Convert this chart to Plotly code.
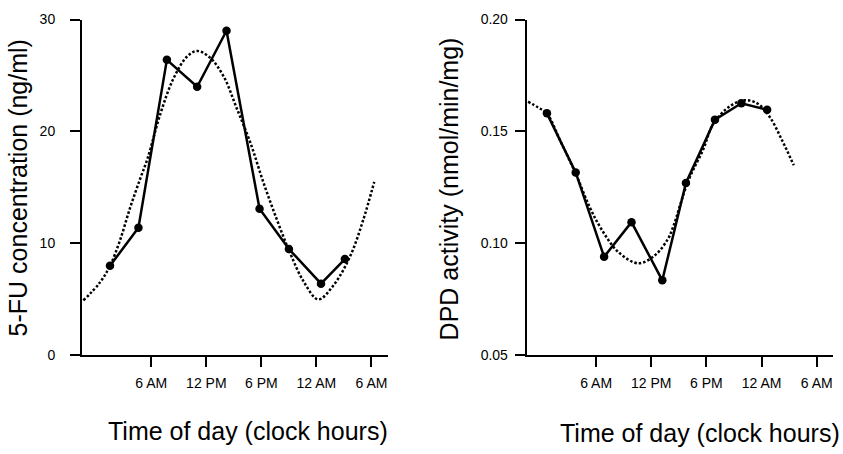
import plotly.graph_objects as go

# Clock time in hours from midnight (30 = 6 AM next day)
fu_hours = [1.5, 4.6, 7.7, 11.0, 14.2, 17.8, 21.0, 24.5, 27.1]
fu_conc = [8.0, 11.4, 26.4, 24.0, 29.0, 13.1, 9.5, 6.4, 8.6]

fu_fit_hours = [-1.4, 0.4, 1.5, 2.6, 3.7, 4.8, 5.6, 7.0, 8.4, 9.9, 11.0, 12.4,
                13.9, 15.3, 16.8, 18.2, 19.7, 21.1, 22.6, 24.2, 25.9, 27.7, 29.1, 30.3]
fu_fit_conc = [4.9, 6.5, 8.0, 10.3, 13.2, 15.8, 17.6, 21.6, 24.7, 26.7, 27.2, 26.6,
               24.9, 22.1, 19.0, 15.5, 12.1, 9.2, 6.6, 5.0, 6.3, 8.9, 12.1, 15.5]

dpd_hours = [0.65, 3.78, 6.87, 9.85, 13.2, 15.77, 18.93, 21.8, 24.6]
dpd_activity = [0.1581, 0.1317, 0.0940, 0.1095, 0.0835, 0.1270, 0.1553, 0.1626, 0.1597]

dpd_fit_hours = [-1.4, -0.3, 0.65, 2.2, 3.8, 5.3, 6.6, 8.4, 10.6, 12.4, 13.8, 14.4,
                 16.0, 17.65, 18.75, 20.6, 22.2, 23.6, 24.9, 26.2, 27.5]
dpd_fit_activity = [0.1633, 0.1607, 0.1580, 0.1449, 0.1310, 0.1162, 0.1062, 0.0962,
                    0.0911, 0.0947, 0.1019, 0.1076, 0.1277, 0.1420, 0.1535, 0.1614,
                    0.1640, 0.1624, 0.1564, 0.1463, 0.1349]

tick_hours = [6, 12, 18, 24, 30]
tick_labels = ["6 AM", "12 PM", "6 PM", "12 AM", "6 AM"]
fu_yticks = [0, 10, 20, 30]
dpd_yticks = [0.05, 0.10, 0.15, 0.20]
dpd_ylabels = ["0.05", "0.10", "0.15", "0.20"]

W, H = 843, 454
FONT = "Liberation Sans, Arial, sans-serif"

fig = go.Figure()

dot_line = dict(color="black", width=2.5, dash="2.5px,2px", shape="spline", smoothing=1)
solid_line = dict(color="black", width=2.5)
marker = dict(color="black", size=8.5)

fig.add_trace(go.Scatter(x=fu_fit_hours, y=fu_fit_conc, mode="lines", line=dot_line,
                         xaxis="x", yaxis="y", hoverinfo="skip"))
fig.add_trace(go.Scatter(x=fu_hours, y=fu_conc, mode="lines+markers", line=solid_line,
                         marker=marker, xaxis="x", yaxis="y"))
fig.add_trace(go.Scatter(x=dpd_fit_hours, y=dpd_fit_activity, mode="lines", line=dot_line,
                         xaxis="x2", yaxis="y2", hoverinfo="skip"))
fig.add_trace(go.Scatter(x=dpd_hours, y=dpd_activity, mode="lines+markers", line=solid_line,
                         marker=marker, xaxis="x2", yaxis="y2"))

y_dom = [(H - 360) / H, (H - 12) / H]
x_range = [-1.55, 31.8]

common_x = dict(range=x_range, tickmode="array", tickvals=tick_hours, ticktext=tick_labels,
                showline=True, linecolor="black", linewidth=2, ticks="outside",
                ticklen=10, tickwidth=2, tickcolor="black", showgrid=False, zeroline=False,
                tickfont=dict(size=14, color="black", family=FONT), ticklabelstandoff=4)
common_y = dict(showline=True, linecolor="black", linewidth=2, ticks="outside",
                ticklen=10, tickwidth=2, tickcolor="black", showgrid=False, zeroline=False,
                tickfont=dict(size=14, color="black", family=FONT))

title_font = dict(size=25, family=FONT, color="black")

fig.update_layout(
    width=W, height=H,
    margin=dict(l=0, r=0, t=0, b=0),
    paper_bgcolor="white", plot_bgcolor="white",
    showlegend=False,
    font=dict(family=FONT, color="black"),
    xaxis=dict(domain=[82 / W, 388 / W], anchor="y", **common_x),
    yaxis=dict(domain=y_dom, anchor="x", range=[0, 30], tickvals=fu_yticks,
               ticklabelstandoff=12, **common_y),
    xaxis2=dict(domain=[526.7 / W, 833.3 / W], anchor="y2", **common_x),
    yaxis2=dict(domain=y_dom, anchor="x2", range=[0.05, 0.20], tickvals=dpd_yticks,
                ticktext=dpd_ylabels, ticklabelstandoff=4, **common_y),
    annotations=[
        dict(text="Time of day (clock hours)", x=248 / W, y=(H - 438) / H,
             xref="paper", yref="paper", showarrow=False, xanchor="center",
             yanchor="middle", font=title_font),
        dict(text="Time of day (clock hours)", x=700 / W, y=(H - 441) / H,
             xref="paper", yref="paper", showarrow=False, xanchor="center",
             yanchor="middle", font=title_font),
        dict(text="5-FU concentration (ng/ml)", x=18 / W, y=(H - 187) / H,
             xref="paper", yref="paper", showarrow=False, xanchor="center",
             yanchor="middle", textangle=-90, font=title_font),
        dict(text="DPD activity (nmol/min/mg)", x=449 / W, y=(H - 187) / H,
             xref="paper", yref="paper", showarrow=False, xanchor="center",
             yanchor="middle", textangle=-90, font=title_font),
    ],
)

fig.write_html("out.html")
